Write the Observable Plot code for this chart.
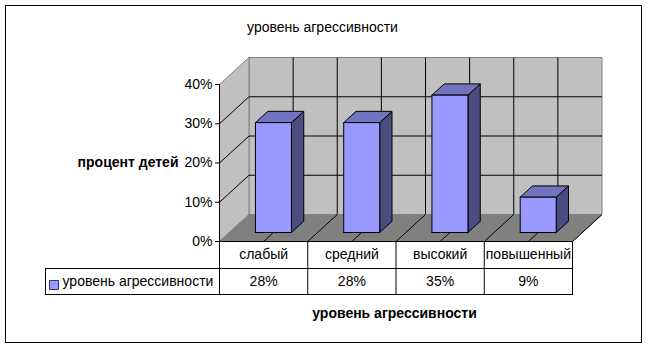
<!DOCTYPE html>
<html>
<head>
<meta charset="utf-8">
<script src="https://cdn.jsdelivr.net/npm/d3@7"></script>
<script src="https://cdn.jsdelivr.net/npm/@observablehq/plot@0.6"></script>
<style>
  html, body { margin: 0; padding: 0; background: white; }
</style>
</head>
<body>
<div id="chart"></div>
<script>
// ---- data ----
const categories = ["слабый", "средний", "высокий", "повышенный"];
const values = [28, 28, 35, 9];
const yTicks = [0, 10, 20, 30, 40];
const seriesName = "уровень агрессивности";
const chartTitle = "уровень агрессивности";
const xTitle = "уровень агрессивности";
const yTitle = "процент детей";

// ---- layout ----
const W = 648, H = 348;
const mL = 219, mR = 76, mT = 84, mB = 107;
const FX = (W - mL - mR) / categories.length;   // px per category
const KY = (H - mT - mB) / 40;                  // px per percent
const ddx = 29.5 / FX, ddy = 27 / KY;           // full depth in data units
const P = (c, v, d) => ({x: c + d * ddx, y: v + d * ddy});
const hw = 0.204, d0 = 1 / 3, d1 = 0.75;
const FONT = "Arial, 'Liberation Sans', sans-serif";

function poly(id, pts) {
  return [...pts, pts[0]].map(p => ({id, x: p.x, y: p.y}));
}

const n = categories.length;
const backWall = poly("back", [P(0,0,1), P(n,0,1), P(n,40,1), P(0,40,1)]);
const sideWall = poly("side", [P(0,0,0), P(0,0,1), P(0,40,1), P(0,40,0)]);
const floor = poly("floor", [P(0,0,0), P(n,0,0), P(n,0,1), P(0,0,1)]);

const halfSteps = d3.range(1, 2 * n).map(k => k / 2);
const backH = yTicks.filter(t => t > 0 && t < 40).map(t => ({a: P(0,t,1), b: P(n,t,1)}));
const backV = halfSteps.map(c => ({a: P(c,0,1), b: P(c,40,1)}));
const sideD = yTicks.filter(t => t > 0 && t < 40).map(t => ({a: P(0,t,0), b: P(0,t,1)}));
const floorD = [...halfSteps, n].map(c => ({a: P(c,0,0), b: P(c,0,1)}));

const fronts = [], tops = [], sides = [];
values.forEach((v, i) => {
  const x0 = i + 0.5 - hw, x1 = i + 0.5 + hw;
  fronts.push(...poly("f" + i, [P(x0,0,d0), P(x1,0,d0), P(x1,v,d0), P(x0,v,d0)]));
  tops.push(...poly("t" + i, [P(x0,v,d0), P(x1,v,d0), P(x1,v,d1), P(x0,v,d1)]));
  sides.push(...poly("s" + i, [P(x1,0,d0), P(x1,0,d1), P(x1,v,d1), P(x1,v,d0)]));
});

const link = (data, stroke) => Plot.link(data, {
  x1: d => d.a.x, y1: d => d.a.y, x2: d => d.b.x, y2: d => d.b.y,
  stroke, strokeWidth: 1
});
const face = (data, fill, stroke) => Plot.line(data, {
  x: "x", y: "y", z: "id", fill, stroke, strokeWidth: 1, strokeLinejoin: "miter"
});

const chart = Plot.plot({
  width: W, height: H,
  marginLeft: mL, marginRight: mR, marginTop: mT, marginBottom: mB,
  x: {type: "linear", domain: [0, n], axis: null},
  y: {type: "linear", domain: [0, 40], axis: null},
  style: {fontFamily: FONT, fontSize: "14px", background: "white", color: "black", overflow: "visible"},
  marks: [
    // outer border
    Plot.frame({stroke: "black", strokeWidth: 1,
      insetLeft: -(mL - 5), insetRight: -(641 - (W - mR)), insetTop: -(mT - 5), insetBottom: -(342 - (H - mB))}),
    // walls and floor
    face(backWall, "#c0c0c0", "#808080"),
    face(sideWall, "#c0c0c0", "#808080"),
    face(floor, "#808080", "#808080"),
    link(backH, "black"),
    link(backV, "black"),
    link(sideD, "black"),
    link(floorD, "black"),
    // bars
    face(sides, "#4c4c80", "black"),
    face(tops, "#7373bf", "black"),
    face(fronts, "#9999ff", "black"),
    // axis line and floor front line
    Plot.ruleX([0], {stroke: "black", insetBottom: -53}),
    Plot.ruleY([0], {stroke: "black"}),
    Plot.axisY({ticks: yTicks, tickFormat: d => d + "%", tickSize: 4, tickPadding: 3,
      fontSize: 14, label: null, stroke: "black", fill: "black"}),
    // data table
    Plot.ruleX(d3.range(1, n + 1), {stroke: "black", insetTop: H - mT - mB, insetBottom: -53}),
    Plot.ruleX([0], {stroke: "black", dx: 45 - mL, insetTop: H - mT - mB + 27, insetBottom: -53}),
    Plot.ruleY([0], {stroke: "black", dy: 27, insetLeft: -(mL - 45), insetRight: -1}),
    Plot.ruleY([0], {stroke: "black", dy: 53, insetLeft: -(mL - 45), insetRight: -1}),
    Plot.text(categories, {x: (d, i) => i + 0.5, frameAnchor: "bottom", dy: 13.5,
      text: d => d, fontSize: 14, fill: "black", lineAnchor: "middle"}),
    Plot.text(values, {x: (d, i) => i + 0.5, frameAnchor: "bottom", dy: 40,
      text: d => d + "%", fontSize: 14, fill: "black", lineAnchor: "middle"}),
    Plot.dot([seriesName], {frameAnchor: "bottom-left", dx: 53.5 - mL, dy: 43.5,
      symbol: "square", r: 5.1, fill: "#9999ff", stroke: "#333366", strokeWidth: 1}),
    Plot.text([seriesName], {frameAnchor: "bottom-left", dx: 62 - mL, dy: 40,
      text: d => d, textAnchor: "start", lineAnchor: "middle", fontSize: 14, fill: "black"}),
    // titles
    Plot.text([chartTitle], {frameAnchor: "top-left", dx: 322 - mL, dy: 27 - mT,
      text: d => d, textAnchor: "middle", lineAnchor: "middle", fontSize: 14, fill: "black"}),
    Plot.text([yTitle], {frameAnchor: "left", dx: 178 - mL, dy: 0,
      text: d => d, textAnchor: "end", lineAnchor: "middle", fontSize: 14, fontWeight: "bold", fill: "black"}),
    Plot.text([xTitle], {frameAnchor: "bottom-left", dx: 394 - mL, dy: 313 - (H - mB),
      text: d => d, textAnchor: "middle", lineAnchor: "middle", fontSize: 14, fontWeight: "bold", fill: "black"})
  ]
});
document.getElementById("chart").appendChild(chart);
</script>
</body>
</html>
